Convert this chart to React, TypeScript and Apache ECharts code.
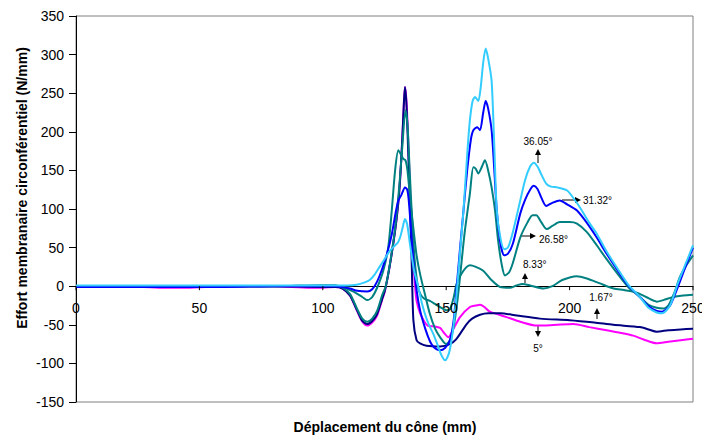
import React, { useEffect, useRef } from "react";
import * as echarts from "echarts";

// [déplacement (mm), effort (N/mm)]
const s5: [number, number][] = [
  [0, 0], [20, 0], [35, -2], [45, -2], [60, 0], [80, 0], [95, -2], [100, -2], [105, -1], [108, -3],
  [111, -12], [114, -33], [116, -46], [118, -51], [120, -47], [122, -38], [124, -18], [125.2, -6],
  [127.2, 28], [129.3, 72], [130.5, 105], [131.3, 137], [132.2, 190], [132.9, 240], [133.3, 258],
  [133.9, 240], [134.6, 190], [135.3, 130], [136, 80], [136.7, 33], [137.4, -1], [138, -19],
  [139.4, -35], [141, -45], [142.5, -51], [145, -52], [147.5, -54], [149, -60], [150.9, -66],
  [152.5, -58], [155.6, -40], [159.6, -27], [162, -25], [163.7, -24], [165.5, -27], [167.7, -33],
  [174.5, -40], [180, -46], [186.7, -51], [190, -51], [195, -50], [201.5, -49], [208, -53],
  [215, -57], [220, -60], [225.8, -64], [230, -69], [235.3, -74], [240, -72], [245, -70], [250, -68],
];

const s167: [number, number][] = [
  [0, 0], [20, 0], [40, -1], [60, 0], [80, 0], [100, -1], [105, -1], [108, -3], [111, -12],
  [114, -32], [116, -45], [118, -49], [120, -45], [122, -36], [124, -17], [125.2, -5], [127.2, 28],
  [129.3, 72], [130.5, 105], [131.3, 137], [132.2, 190], [132.9, 240], [133.3, 258], [133.9, 235],
  [134.6, 175], [135.3, 105], [136, 33], [136.7, -44], [138, -70], [139.4, -74], [142, -77],
  [147.5, -78], [151.5, -75], [154, -69], [158.3, -49], [160.5, -42], [163.7, -37], [167, -35],
  [172, -35], [178.6, -38], [188, -42], [200, -44], [210, -47], [217.7, -50], [228.5, -53],
  [232, -56], [235.3, -59], [240, -57], [245, -56], [250, -55],
];

const s833: [number, number][] = [
  [0, 0], [20, 0], [40, 0], [60, 0], [80, 0], [100, 1], [105, 1], [108, -2], [111, -10], [114, -30],
  [116, -42], [118, -46], [120, -42], [122, -32], [124, -12], [125.5, 0], [127.5, 35], [129.5, 80],
  [131, 130], [132.2, 180], [133.5, 228], [134.3, 210], [135.2, 150], [136.2, 85], [137.2, 35],
  [138.5, 0], [139.5, -10], [141, -16], [143.4, -19], [145.5, -23], [147.5, -27], [150, -31],
  [151.5, -30], [153, -15], [154.2, 3], [156, 15], [158, 24], [159.6, 27], [162, 25], [165, 20],
  [168, 9], [171.8, -1], [175.8, -2], [178.5, 1], [181, 3], [184, 1], [189.4, -3], [193, 0],
  [197, 8], [202.9, 13], [207, 10], [212, 4], [217.8, -3], [222, -5], [227, -8], [231, -14],
  [235.3, -20], [238, -18], [242, -14], [246, -12], [250, -11],
];

const s2658: [number, number][] = [
  [0, 0], [20, 0], [40, 0], [60, 0], [80, 0], [100, 1], [105, 1], [108, -1], [111, -5], [113, -8],
  [116, -14], [118, -18], [120, -14], [122, -2], [124.5, 20], [126.5, 50], [128, 100], [129.3, 150],
  [130.6, 176], [131.8, 170], [132.6, 165], [133.5, 163], [134.3, 150], [135.5, 110], [136.7, 75],
  [138, 40], [139.4, 16], [141.5, -12], [143.4, -36], [145.5, -55], [147.5, -66], [150, -75],
  [151.5, -70], [153, -53], [154.5, -20], [155.6, 12], [157.5, 70], [159.6, 120], [161, 154],
  [162, 152], [163, 146], [164.5, 155], [165.7, 163], [167, 150], [168.4, 128], [169.8, 98],
  [171, 60], [172.5, 28], [173.8, 14], [175.5, 18], [177, 30], [180, 63], [183, 83], [185, 92],
  [186.5, 92], [188.5, 83], [190.7, 74], [193, 78], [196, 83], [200, 83], [203, 81], [207, 70],
  [211, 53], [215, 35], [220.4, 12], [224, -2], [228.5, -14], [232, -24], [235.3, -28], [238, -29],
  [240, -25], [242.5, -8], [244.7, 12], [247.5, 28], [250, 40],
];

const s3132: [number, number][] = [
  [0, -1], [20, -1], [40, -1], [60, -1], [80, 0], [100, 0], [105, 0], [108, -1], [111, -3],
  [114, -6], [118, -7], [120, -4], [122, 6], [124, 22], [126, 42], [128, 68], [129.5, 95],
  [130.6, 111], [131.8, 118], [133.3, 128], [134.2, 125], [134.8, 112], [135.7, 75], [136.7, 33],
  [138, -5], [139.4, -31], [141.5, -55], [143.5, -72], [145, -79], [147.5, -83], [149.5, -80],
  [151.5, -70], [153, -45], [154, -10], [155.5, 45], [157, 98], [158.5, 150], [160, 190], [161, 202],
  [162.6, 206], [163.7, 202], [165, 225], [166, 240], [167, 230], [168.4, 202], [169.5, 150],
  [170.5, 98], [172, 55], [173.5, 40], [175, 42], [177, 55], [180, 94], [182, 112], [184, 125],
  [185.5, 130], [187, 126], [188.5, 115], [190.5, 104], [193, 108], [196, 111], [199, 106],
  [203, 98], [207, 82], [211, 63], [215, 42], [220.4, 16], [224, 0], [228.5, -14], [232, -26],
  [235.3, -32], [237.5, -33], [240.7, -25], [244, 0], [247.4, 29], [250, 50],
];

const s3605: [number, number][] = [
  [0, 1], [20, 1], [40, 1], [60, 1], [80, 1], [100, 1], [105, 1], [110, 1], [113.7, 2], [117, 5],
  [119, 8], [121, 15], [123, 25], [125, 35], [127.2, 46], [129, 52], [130.5, 57], [131.5, 65],
  [132.5, 78], [133.3, 87], [134.2, 80], [135.3, 55], [137, 20], [138.7, -1], [140, -20],
  [141.4, -36], [143, -50], [144.8, -62], [146.5, -76], [147.5, -85], [148.5, -92], [149.5, -96],
  [150.5, -92], [151.5, -82], [153, -50], [154.2, -10], [155.5, 40], [157, 98], [158.5, 170],
  [159.6, 215], [160.7, 240], [161.7, 245], [163, 240], [164, 258], [165, 290], [166, 308],
  [167, 295], [168.4, 266], [169.5, 180], [170.5, 98], [172, 62], [173.5, 48], [175, 50], [177, 70],
  [180, 111], [182, 138], [184, 155], [185.5, 160], [187, 155], [188.5, 145], [190.5, 133],
  [192.5, 129], [195, 128], [199, 124], [202, 112], [204.2, 102], [208, 82], [211, 68], [215, 45],
  [220.4, 18], [224, 1], [228.5, -14], [232, -28], [235.3, -34], [237.5, -35], [240.7, -25],
  [244, 5], [247.4, 32], [250, 53],
];

const seriesNames = ["5°", "1.67°", "8.33°", "26.58°", "31.32°", "36.05°"];
const seriesData = [s5, s167, s833, s2658, s3132, s3605];
const seriesColors = ["#FF00FF", "#000080", "#008080", "#008080", "#0000FF", "#33CCFF"];
const xTickValues = [0, 50, 100, 150, 200, 250];

const FONT = "'Liberation Sans', Arial, sans-serif";

function arrowUp(x: number, yBottom: number, yTip: number) {
  return [
    { type: "line", shape: { x1: x, y1: yBottom, x2: x, y2: yTip + 4 }, style: { stroke: "#000", lineWidth: 1 } },
    { type: "polygon", shape: { points: [[x, yTip], [x - 3, yTip + 6], [x + 3, yTip + 6]] }, style: { fill: "#000" } },
  ];
}
function arrowDown(x: number, yTop: number, yTip: number) {
  return [
    { type: "line", shape: { x1: x, y1: yTop, x2: x, y2: yTip - 4 }, style: { stroke: "#000", lineWidth: 1 } },
    { type: "polygon", shape: { points: [[x, yTip], [x - 3, yTip - 6], [x + 3, yTip - 6]] }, style: { fill: "#000" } },
  ];
}
function arrowRight(xStart: number, xTip: number, y: number) {
  return [
    { type: "line", shape: { x1: xStart, y1: y, x2: xTip - 4, y2: y }, style: { stroke: "#000", lineWidth: 1 } },
    { type: "polygon", shape: { points: [[xTip, y], [xTip - 6, y - 3], [xTip - 6, y + 3]] }, style: { fill: "#000" } },
  ];
}
function label(text: string, x: number, y: number, align: string) {
  return {
    type: "text",
    x,
    y,
    style: { text, fill: "#000", font: `10px ${FONT}`, align, verticalAlign: "middle" },
  };
}

export default function App() {
  const ref = useRef<HTMLDivElement>(null);
  useEffect(() => {
    if (!ref.current) return;
    const chart = echarts.init(ref.current, undefined, { renderer: "svg" });
    chart.setOption({
      animation: false,
      backgroundColor: "#fff",
      grid: {
        left: 76,
        right: 9,
        top: 16,
        bottom: 34,
        show: true,
        borderColor: "#808080",
        borderWidth: 1,
        backgroundColor: "transparent",
      },
      xAxis: {
        type: "value",
        min: 0,
        max: 250,
        interval: 50,
        axisLine: { show: true, onZero: true, lineStyle: { color: "#000", width: 1 } },
        axisTick: { show: false },
        axisLabel: { show: false },
        splitLine: { show: false },
      },
      yAxis: {
        type: "value",
        min: -150,
        max: 350,
        interval: 50,
        axisLine: { show: true, onZero: false, lineStyle: { color: "#000", width: 1 } },
        axisTick: { show: true, length: 7, lineStyle: { color: "#000" } },
        axisLabel: { margin: 12, fontSize: 14, color: "#000", fontFamily: FONT },
        splitLine: { show: false },
      },
      series: seriesData.map((d, i) => ({
        type: "line",
        name: seriesNames[i],
        data: d,
        showSymbol: false,
        symbol: "none",
        smooth: 0.25,
        lineStyle: { color: seriesColors[i], width: 2 },
        itemStyle: { color: seriesColors[i] },
      })),
    });

    // x-axis tick labels and ticks sitting on the zero line (as in the reference)
    const xTickGraphics: any[] = [];
    xTickValues.forEach((v) => {
      const p = chart.convertToPixel({ gridIndex: 0 }, [v, 0]) as number[];
      if (!p) return;
      xTickGraphics.push({
        type: "line",
        shape: { x1: p[0], y1: p[1], x2: p[0], y2: p[1] + 4 },
        style: { stroke: "#000", lineWidth: 1 },
        z: 10,
      });
      xTickGraphics.push({
        type: "text",
        x: p[0],
        y: p[1] + 15,
        style: { text: String(v), fill: "#000", font: `14px ${FONT}`, align: "center", verticalAlign: "top" },
        z: 10,
      });
    });

    chart.setOption({
      graphic: [
        ...xTickGraphics,
        {
          type: "text",
          x: 22,
          y: 188,
          rotation: Math.PI / 2,
          style: {
            text: "Effort membranaire circonférentiel (N/mm)",
            fill: "#000",
            font: `bold 14px ${FONT}`,
            align: "center",
            verticalAlign: "middle",
          },
        },
        {
          type: "text",
          x: 385,
          y: 427,
          style: {
            text: "Déplacement du cône (mm)",
            fill: "#000",
            font: `bold 14px ${FONT}`,
            align: "center",
            verticalAlign: "middle",
          },
        },
        ...arrowUp(538, 163, 149),
        label("36.05°", 538, 141, "center"),
        ...arrowRight(562, 581, 200),
        label("31.32°", 583, 200, "left"),
        ...arrowRight(520, 536, 236),
        label("26.58°", 539, 239, "left"),
        ...arrowUp(525, 283, 273),
        label("8.33°", 523, 264, "left"),
        ...arrowUp(597, 319, 308),
        label("1.67°", 601, 297, "center"),
        ...arrowDown(538, 325, 337),
        label("5°", 538, 348, "center"),
      ],
    });
    return () => chart.dispose();
  }, []);
  return (
    <div
      ref={ref}
      style={{ position: "fixed", left: 0, top: 0, width: 702, height: 436 }}
    />
  );
}
